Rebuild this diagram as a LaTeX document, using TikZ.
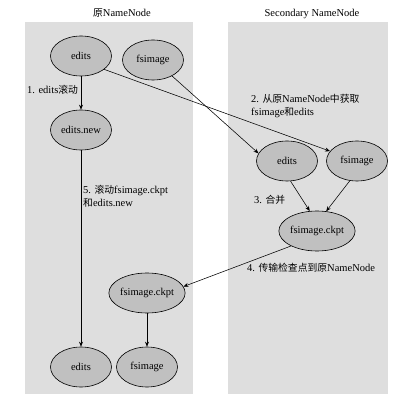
\documentclass[tikz,border=0pt]{standalone}
\usepackage{fontspec}
\setmainfont{Liberation Serif}
\newfontfamily\cjk{Noto Sans CJK SC}
\newcommand{\zh}[1]{{\cjk\fontsize{9.8}{11}\selectfont #1}}
\usetikzlibrary{shapes.geometric,arrows.meta}
\definecolor{panelgray}{RGB}{222,222,222}
\definecolor{nodegray}{RGB}{192,192,192}
\begin{document}
\begin{tikzpicture}[x=1pt,y=-1pt,
  font=\fontsize{10.5}{12.5}\selectfont,
  panel/.style={fill=panelgray,draw=none},
  ell/.style={ellipse,draw=black,fill=nodegray,line width=0.6pt,minimum width=61pt,minimum height=40pt,inner sep=0pt},
  conn/.style={-{Stealth[length=5pt,width=4pt]},line width=0.55pt},
  lbl/.style={anchor=west,inner sep=0pt,align=left}]
\useasboundingbox[fill=white] (0,0) rectangle (409,403);
\fill[panel] (25,22) rectangle (193,394);
\fill[panel] (228,22) rectangle (388,394);
\node (t1) at (122,13) {\zh{原}NameNode};
\node (t2) at (312,14) {Secondary NameNode};
% left panel nodes
\node[ell] (e1) at (81,56) {edits};
\node[ell] (f1) at (153,60) {fsimage};
\node[ell] (en) at (81,130) {edits.new};
\node[ell] (c1) at (147,293) {fsimage.ckpt};
\node[ell] (e3) at (81,367) {edits};
\node[ell] (f3) at (147,367) {fsimage};
% right panel nodes
\node[ell] (e2) at (287,161) {edits};
\node[ell] (f2) at (357,161) {fsimage};
\node[ell] (c2) at (317,231) {fsimage.ckpt};
% connectors
\draw[conn] (e1) -- (en);
\draw[conn] (en) -- (e3);
\draw[conn] (c1) -- (f3);
\draw[conn] (e1.-30) -- (f2.160);
\draw[conn] (f1.-40) -- (e2.165);
\draw[conn] (e2.-80) -- (c2.110);
\draw[conn] (f2.-110) -- (c2.65);
\draw[conn] (c2.-150) -- (c1.10);
% labels
\node[lbl] (l1) at (27,90) {1. edits\zh{滚动}};
\node[lbl] (l2) at (251,106) {2. \zh{从原}NameNode\zh{中获取}\\fsimage\zh{和}edits};
\node[lbl] (l3) at (254,200) {3. \zh{合并}};
\node[lbl] (l4) at (247,268) {4. \zh{传输检查点到原}NameNode};
\node[lbl] (l5) at (83,196) {5. \zh{滚动}fsimage.ckpt\\\zh{和}edits.new};
\end{tikzpicture}
\end{document}
